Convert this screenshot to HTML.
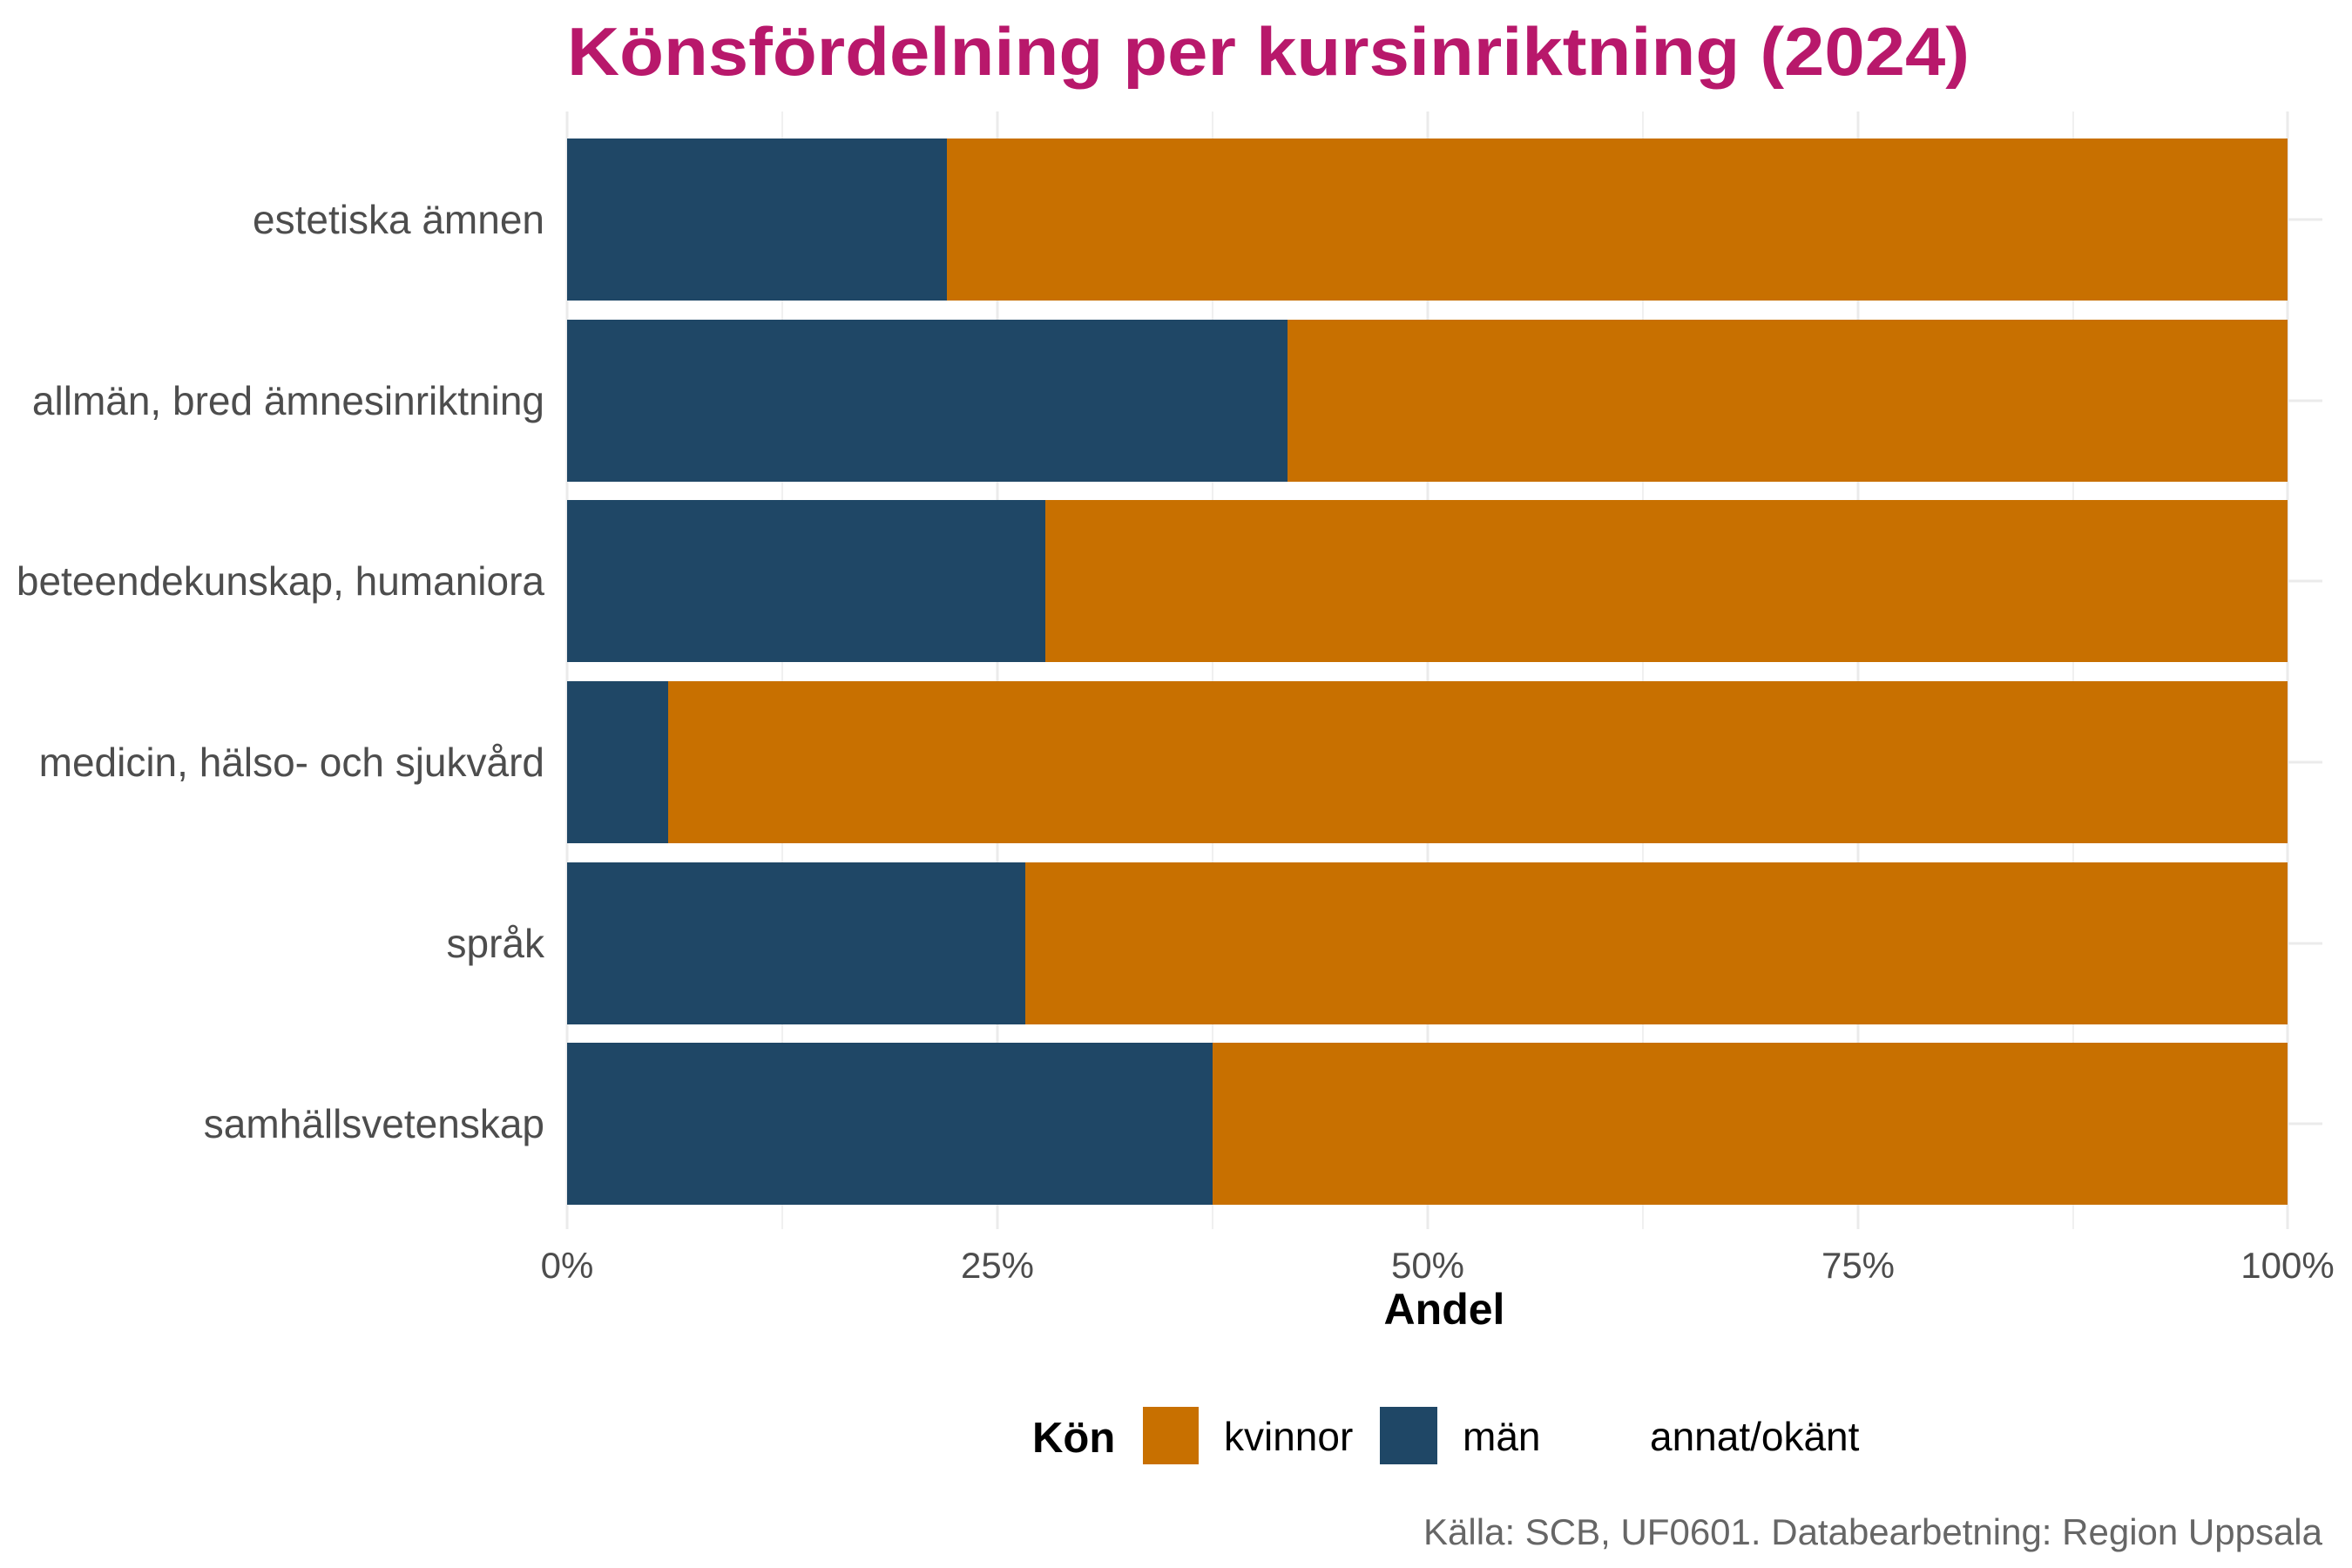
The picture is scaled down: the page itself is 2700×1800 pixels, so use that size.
<!DOCTYPE html>
<html><head><meta charset="utf-8"><style>html,body{margin:0;padding:0;background:#fff}svg{display:block}</style></head><body>
<svg width="2700" height="1800" xmlns="http://www.w3.org/2000/svg" font-family="Liberation Sans, Arial, sans-serif">
<rect width="2700" height="1800" fill="#fff"/>
<g stroke="#ebebeb">
<g stroke-width="1.5">
<line x1="898" y1="128" x2="898" y2="1411"/><line x1="1392" y1="128" x2="1392" y2="1411"/><line x1="1886" y1="128" x2="1886" y2="1411"/><line x1="2380" y1="128" x2="2380" y2="1411"/>
</g>
<g stroke-width="3">
<line x1="651" y1="128" x2="651" y2="1411"/><line x1="1145" y1="128" x2="1145" y2="1411"/><line x1="1639" y1="128" x2="1639" y2="1411"/><line x1="2133" y1="128" x2="2133" y2="1411"/><line x1="2626" y1="128" x2="2626" y2="1411"/>
<line x1="651" y1="252" x2="2666" y2="252"/><line x1="651" y1="460" x2="2666" y2="460"/><line x1="651" y1="667" x2="2666" y2="667"/><line x1="651" y1="875" x2="2666" y2="875"/><line x1="651" y1="1083" x2="2666" y2="1083"/><line x1="651" y1="1290" x2="2666" y2="1290"/>
</g></g>
<g>
<rect x="651" y="159" width="1975" height="186" fill="#c87000"/><rect x="651" y="159" width="436" height="186" fill="#1f4766"/>
<rect x="651" y="367" width="1975" height="186" fill="#c87000"/><rect x="651" y="367" width="827" height="186" fill="#1f4766"/>
<rect x="651" y="574" width="1975" height="186" fill="#c87000"/><rect x="651" y="574" width="549" height="186" fill="#1f4766"/>
<rect x="651" y="782" width="1975" height="186" fill="#c87000"/><rect x="651" y="782" width="116" height="186" fill="#1f4766"/>
<rect x="651" y="990" width="1975" height="186" fill="#c87000"/><rect x="651" y="990" width="526" height="186" fill="#1f4766"/>
<rect x="651" y="1197" width="1975" height="186" fill="#c87000"/><rect x="651" y="1197" width="741" height="186" fill="#1f4766"/>
</g>
<text x="651" y="86" font-size="78" font-weight="bold" fill="#b8186b" textLength="1610" lengthAdjust="spacingAndGlyphs">Könsfördelning per kursinriktning (2024)</text>
<g font-size="46" fill="#4d4d4d" text-anchor="end">
<text x="625" y="268">estetiska ämnen</text>
<text x="625" y="476">allmän, bred ämnesinriktning</text>
<text x="625" y="683">beteendekunskap, humaniora</text>
<text x="625" y="891">medicin, hälso- och sjukvård</text>
<text x="625" y="1099">språk</text>
<text x="625" y="1306">samhällsvetenskap</text>
</g>
<g font-size="42" fill="#4d4d4d" text-anchor="middle">
<text x="651" y="1467">0%</text><text x="1145" y="1467">25%</text><text x="1639" y="1467">50%</text><text x="2133" y="1467">75%</text><text x="2626" y="1467">100%</text>
</g>
<text x="1658" y="1520" font-size="50" font-weight="bold" text-anchor="middle" fill="#000">Andel</text>
<text x="1185" y="1667" font-size="49" font-weight="bold" fill="#000">Kön</text>
<rect x="1312" y="1615" width="64" height="66" fill="#c87000"/>
<text x="1405" y="1665" font-size="46" fill="#000">kvinnor</text>
<rect x="1584" y="1615" width="66" height="66" fill="#1f4766"/>
<text x="1679" y="1665" font-size="46" fill="#000">män</text>
<text x="1894" y="1665" font-size="46" fill="#000">annat/okänt</text>
<text x="2666" y="1773" font-size="42" fill="#666" text-anchor="end">Källa: SCB, UF0601. Databearbetning: Region Uppsala</text>
</svg>
</body></html>
